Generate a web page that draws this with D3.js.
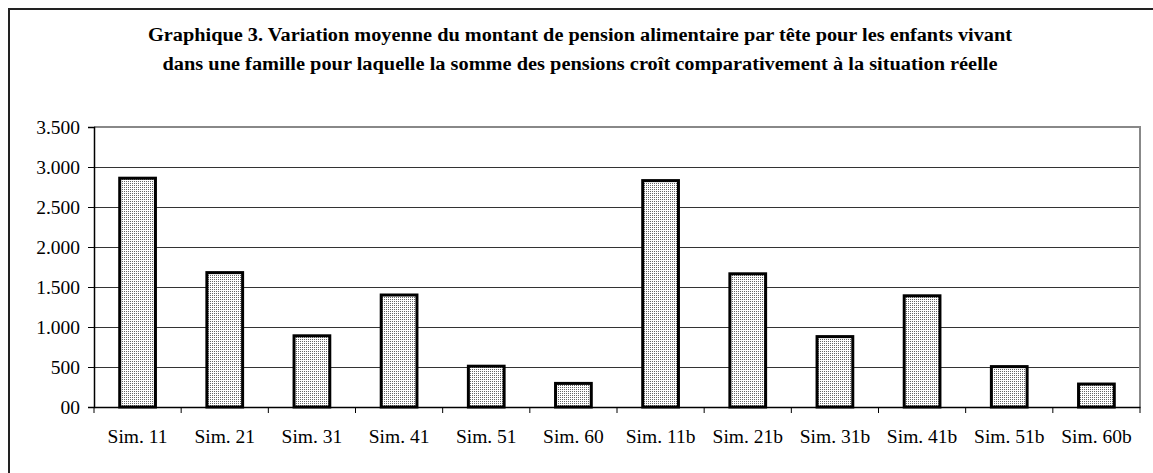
<!DOCTYPE html>
<html>
<head>
<meta charset="utf-8">
<script src="https://cdn.jsdelivr.net/npm/d3@7"></script>
<style>
  body { margin: 0; background: #fff; }
  svg { display: block; }
</style>
</head>
<body>
<div id="chart"></div>
<script>
const categories = ["Sim. 11", "Sim. 21", "Sim. 31", "Sim. 41", "Sim. 51", "Sim. 60",
    "Sim. 11b", "Sim. 21b", "Sim. 31b", "Sim. 41b", "Sim. 51b", "Sim. 60b"];
const values = [2860, 1680, 890, 1400, 510, 295, 2830, 1665, 880, 1390, 505, 287];
const yTicks = [0, 500, 1000, 1500, 2000, 2500, 3000, 3500];
const titleLines = [
    "Graphique 3. Variation moyenne du montant de pension alimentaire par tête pour les enfants vivant",
    "dans une famille pour laquelle la somme des pensions croît comparativement à la situation réelle"
];
const titleWidths = [864, 835];

const W = 1153, H = 473;
const margin = {top: 127, right: 13, bottom: 66, left: 94},
    width = W - margin.left - margin.right,
    height = H - margin.top - margin.bottom;

const serif = "'Liberation Serif', 'Times New Roman', Times, serif";

const root = d3.select("#chart").append("svg")
    .attr("width", W)
    .attr("height", H)
    .style("font-family", serif);

// stipple fill of the bars
const pat = root.append("defs").append("pattern")
    .attr("id", "dots")
    .attr("width", 2).attr("height", 2)
    .attr("patternUnits", "userSpaceOnUse");
pat.append("rect").attr("width", 2).attr("height", 2).attr("fill", "#fff");
pat.append("rect").attr("width", 1).attr("height", 1).attr("fill", "#666");

// outer frame (runs off the right and bottom)
root.append("rect")
    .attr("x", 9).attr("y", 9)
    .attr("width", W + 20).attr("height", H + 20)
    .attr("fill", "none")
    .attr("stroke", "#222")
    .attr("stroke-width", 2);

root.selectAll("text.title")
    .data(titleLines)
    .enter()
    .append("text")
    .attr("class", "title")
    .attr("x", 580)
    .attr("y", (d, i) => 41 + i * 29)
    .attr("text-anchor", "middle")
    .attr("textLength", (d, i) => titleWidths[i])
    .attr("lengthAdjust", "spacingAndGlyphs")
    .style("font-weight", "bold")
    .style("font-size", "18px")
    .text((d) => d);

const svg = root.append("g")
    .attr("transform", "translate(" + margin.left + "," + margin.top + ")");

const x = d3.scaleBand()
    .domain(categories)
    .range([0, width])
    .paddingInner(0.59)
    .paddingOuter(0.295);

const y = d3.scaleLinear()
    .domain([0, 3500])
    .range([height, 0]);

// grid lines
svg.selectAll("line.grid")
    .data(yTicks.slice(1, -1))
    .enter()
    .append("line")
    .attr("x1", 0).attr("x2", width)
    .attr("y1", (d) => Math.round(y(d)) + 0.5)
    .attr("y2", (d) => Math.round(y(d)) + 0.5)
    .attr("stroke", "#333");

// plot border top and right
svg.append("path")
    .attr("d", "M0,0H" + width + "V" + height)
    .attr("fill", "none")
    .attr("stroke", "#888")
    .attr("stroke-width", 2);

svg.selectAll("rect.bar")
    .data(values)
    .enter()
    .append("rect")
    .attr("class", "bar")
    .attr("x", (d, i) => x(categories[i]))
    .attr("y", (d) => y(d))
    .attr("width", x.bandwidth())
    .attr("height", (d) => height - y(d))
    .attr("fill", "url(#dots)")
    .attr("stroke", "#000")
    .attr("stroke-width", 3);

const fmt = (d) => d === 0 ? "00" : d3.format(",")(d).replace(",", ".");

const yAxis = svg.append("g")
    .call(d3.axisLeft(y).tickValues(yTicks).tickFormat(fmt).tickSize(6).tickPadding(8));

// x axis with ticks between categories
const step = width / categories.length;
const xAxis = svg.append("g")
    .attr("transform", "translate(0," + height + ")")
    .call(d3.axisBottom(x).tickSize(0).tickPadding(22));
xAxis.selectAll("line.sep")
    .data(d3.range(categories.length + 1))
    .enter()
    .append("line")
    .attr("class", "sep")
    .attr("x1", (d) => d * step).attr("x2", (d) => d * step)
    .attr("y1", 0).attr("y2", 6)
    .attr("stroke", "#000");

[yAxis, xAxis].forEach((a) => {
    a.select(".domain").attr("stroke", "#000").attr("stroke-width", 1.5);
    a.selectAll(".tick line").attr("stroke", "#000");
    a.selectAll("text")
        .attr("fill", "#000")
        .style("font-family", serif)
        .style("font-size", "19.5px");
});
</script>
</body>
</html>
